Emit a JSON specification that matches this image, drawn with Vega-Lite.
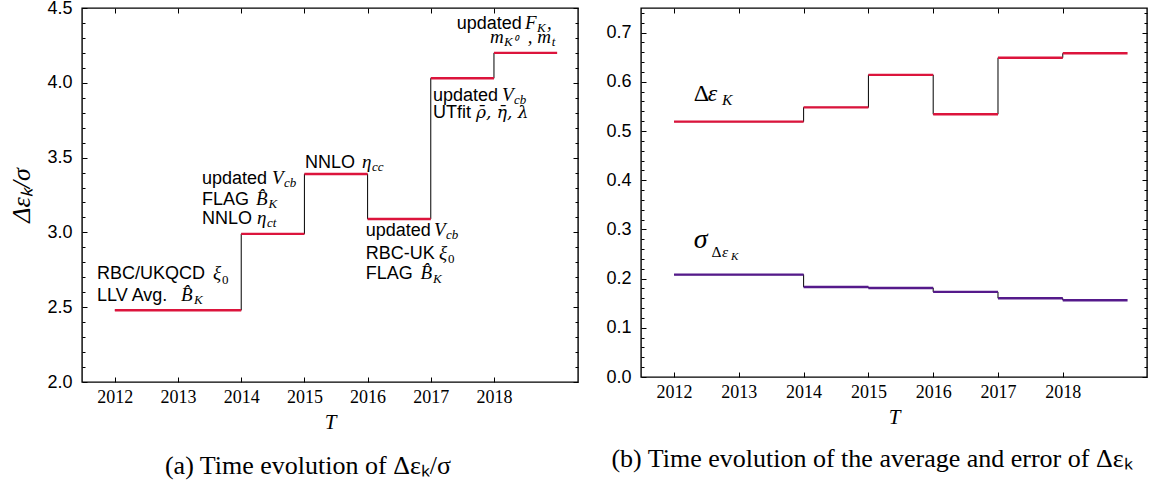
{
  "$schema": "https://vega.github.io/schema/vega-lite/v6.json",
  "padding": {"left": 8, "top": -2, "right": 0, "bottom": 0},
  "autosize": {"type": "pad"},
  "background": "white",
  "config": {
    "view": {"stroke": "black", "strokeWidth": 1.4},
    "axis": {"domain": false, "grid": false, "tickColor": "black", "labelColor": "black", "titleColor": "black", "labelFontSize": 18, "tickWidth": 1},
    "axisX": {"labelFont": "Liberation Serif"},
    "axisY": {"labelFont": "Liberation Sans"},
    "title": {"font": "Liberation Serif", "fontSize": 26, "fontWeight": "normal", "orient": "bottom", "offset": 21, "color": "black"},
    "concat": {"spacing": 25},
    "text": {"align": "left", "baseline": "alphabetic", "color": "black"}
  },
  "datasets": {
    "left": [
      {"T": 2012, "T2": 2014, "v": 2.48},
      {"T": 2014, "T2": 2015, "v": 2.99},
      {"T": 2015, "T2": 2016, "v": 3.39},
      {"T": 2016, "T2": 2017, "v": 3.09},
      {"T": 2017, "T2": 2018, "v": 4.03},
      {"T": 2018, "T2": 2019, "v": 4.2}
    ],
    "right": [
      {"s": "avg", "T": 2012, "T2": 2014, "v": 0.519},
      {"s": "avg", "T": 2014, "T2": 2015, "v": 0.548},
      {"s": "avg", "T": 2015, "T2": 2016, "v": 0.614},
      {"s": "avg", "T": 2016, "T2": 2017, "v": 0.534},
      {"s": "avg", "T": 2017, "T2": 2018, "v": 0.649},
      {"s": "avg", "T": 2018, "T2": 2019, "v": 0.658},
      {"s": "err", "T": 2012, "T2": 2014, "v": 0.208},
      {"s": "err", "T": 2014, "T2": 2015, "v": 0.183},
      {"s": "err", "T": 2015, "T2": 2016, "v": 0.181},
      {"s": "err", "T": 2016, "T2": 2017, "v": 0.173},
      {"s": "err", "T": 2017, "T2": 2018, "v": 0.160},
      {"s": "err", "T": 2018, "T2": 2019, "v": 0.156}
    ],
    "lsans": [
      {"T": 2011.717, "v": 2.687, "t": "RBC/UKQCD"},
      {"T": 2011.717, "v": 2.541, "t": "LLV Avg."},
      {"T": 2013.379, "v": 3.326, "t": "updated"},
      {"T": 2013.379, "v": 3.183, "t": "FLAG"},
      {"T": 2013.379, "v": 3.054, "t": "NNLO"},
      {"T": 2015.008, "v": 3.432, "t": "NNLO"},
      {"T": 2015.969, "v": 2.976, "t": "updated"},
      {"T": 2015.969, "v": 2.820, "t": "RBC-UK"},
      {"T": 2015.969, "v": 2.687, "t": "FLAG"},
      {"T": 2017.034, "v": 3.878, "t": "updated"},
      {"T": 2017.034, "v": 3.767, "t": "UTfit"},
      {"T": 2017.410, "v": 4.362, "t": "updated"}
    ],
    "lmath": [
      {"T": 2013.553, "v": 2.687, "t": "ξ"},
      {"T": 2013.046, "v": 2.541, "t": "B̂"},
      {"T": 2014.486, "v": 3.326, "t": "V"},
      {"T": 2014.233, "v": 3.183, "t": "B̂"},
      {"T": 2014.249, "v": 3.054, "t": "η"},
      {"T": 2015.910, "v": 3.432, "t": "η"},
      {"T": 2017.050, "v": 2.976, "t": "V"},
      {"T": 2017.129, "v": 2.820, "t": "ξ"},
      {"T": 2016.839, "v": 2.687, "t": "B̂"},
      {"T": 2018.126, "v": 3.878, "t": "V"},
      {"T": 2018.490, "v": 4.362, "t": "F"},
      {"T": 2018.838, "v": 4.362, "t": ","},
      {"T": 2017.936, "v": 4.268, "t": "m"},
      {"T": 2018.535, "v": 4.268, "t": ", m"}
    ],
    "lsub": [
      {"T": 2013.252, "v": 2.521, "t": "K"},
      {"T": 2014.676, "v": 3.303, "t": "cb"},
      {"T": 2014.431, "v": 3.163, "t": "K"},
      {"T": 2014.408, "v": 3.033, "t": "ct"},
      {"T": 2016.069, "v": 3.410, "t": "cc"},
      {"T": 2017.240, "v": 2.953, "t": "cb"},
      {"T": 2017.034, "v": 2.663, "t": "K"},
      {"T": 2018.316, "v": 3.855, "t": "cb"},
      {"T": 2018.680, "v": 4.340, "t": "K"},
      {"T": 2018.157, "v": 4.246, "t": "K⁰"},
      {"T": 2018.915, "v": 4.246, "t": "t"}
    ],
    "lsubup": [
      {"T": 2013.695, "v": 2.655, "t": "0"},
      {"T": 2017.271, "v": 2.797, "t": "0"}
    ]
  },
  "hconcat": [
    {
      "width": 496,
      "height": 374,
      "title": {"text": "(a) Time evolution of Δεₖ/σ", "dx": -22},
      "resolve": {"axis": {"x": "independent", "y": "independent"}},
      "layer": [
        {
          "data": {"name": "left"},
          "mark": {"type": "line", "interpolate": "step-after", "color": "black", "strokeWidth": 1},
          "encoding": {
            "x": {"field": "T", "type": "quantitative", "scale": {"domain": [2011.48, 2019.33], "nice": false, "zero": false},
              "axis": {"orient": "bottom", "values": [2012, 2013, 2014, 2015, 2016, 2017, 2018], "format": "d", "tickSize": -5, "labelPadding": 11, "labelFlush": false, "labelOverlap": false,
                "title": "T", "titleFont": "Liberation Serif", "titleFontStyle": "italic", "titleFontWeight": "normal", "titleFontSize": 21, "titlePadding": 5}},
            "y": {"field": "v", "type": "quantitative", "scale": {"domain": [2, 4.5], "nice": false, "zero": false},
              "axis": {"orient": "left", "values": [2, 2.5, 3, 3.5, 4, 4.5], "format": ".1f", "tickSize": -5, "labelPadding": 15, "labelFlush": false, "labelOverlap": false,
                "title": "Δεₖ/σ", "titleFont": "Liberation Serif", "titleFontStyle": "italic", "titleFontWeight": "normal", "titleFontSize": 26, "titlePadding": 12}}
          }
        },
        {
          "data": {"name": "left"},
          "mark": {"type": "rule", "color": "#dc143c", "strokeWidth": 2.4},
          "encoding": {
            "x": {"field": "T", "type": "quantitative", "scale": {"domain": [2011.48, 2019.33], "nice": false, "zero": false},
              "axis": {"orient": "top", "values": [2012, 2013, 2014, 2015, 2016, 2017, 2018], "labels": false, "tickSize": -5, "title": null}},
            "x2": {"field": "T2"},
            "y": {"field": "v", "type": "quantitative", "scale": {"domain": [2, 4.5], "nice": false, "zero": false},
              "axis": {"orient": "right", "values": [2, 2.5, 3, 3.5, 4, 4.5], "labels": false, "tickSize": -5, "title": null}}
          }
        },
        {
          "data": {"name": "lsans"},
          "mark": {"type": "text", "font": "Liberation Sans", "fontSize": 18},
          "encoding": {
            "x": {"field": "T", "type": "quantitative", "scale": {"domain": [2011.48, 2019.33], "nice": false, "zero": false}, "axis": null},
            "y": {"field": "v", "type": "quantitative", "scale": {"domain": [2, 4.5], "nice": false, "zero": false},
              "axis": {"orient": "left", "values": [2.1, 2.2, 2.3, 2.4, 2.6, 2.7, 2.8, 2.9, 3.1, 3.2, 3.3, 3.4, 3.6, 3.7, 3.8, 3.9, 4.1, 4.2, 4.3, 4.4], "labels": false, "tickSize": -3, "title": null}},
            "text": {"field": "t"}
          }
        },
        {
          "data": {"name": "lmath"},
          "mark": {"type": "text", "font": "Liberation Serif", "fontStyle": "italic", "fontSize": 19},
          "encoding": {
            "x": {"field": "T", "type": "quantitative", "scale": {"domain": [2011.48, 2019.33], "nice": false, "zero": false}, "axis": null},
            "y": {"field": "v", "type": "quantitative", "scale": {"domain": [2, 4.5], "nice": false, "zero": false},
              "axis": {"orient": "right", "values": [2.1, 2.2, 2.3, 2.4, 2.6, 2.7, 2.8, 2.9, 3.1, 3.2, 3.3, 3.4, 3.6, 3.7, 3.8, 3.9, 4.1, 4.2, 4.3, 4.4], "labels": false, "tickSize": -3, "title": null}},
            "text": {"field": "t"}
          }
        },
        {
          "data": {"values": [{"T": 2017.714, "v": 3.767, "t": "ρ̄, η̄, λ"}]},
          "mark": {"type": "text", "font": "DejaVu Serif", "fontStyle": "italic", "fontSize": 17},
          "encoding": {
            "x": {"field": "T", "type": "quantitative", "scale": {"domain": [2011.48, 2019.33], "nice": false, "zero": false}, "axis": null},
            "y": {"field": "v", "type": "quantitative", "scale": {"domain": [2, 4.5], "nice": false, "zero": false}, "axis": null},
            "text": {"field": "t"}
          }
        },
        {
          "data": {"name": "lsub"},
          "mark": {"type": "text", "font": "Liberation Serif", "fontStyle": "italic", "fontSize": 13},
          "encoding": {
            "x": {"field": "T", "type": "quantitative", "scale": {"domain": [2011.48, 2019.33], "nice": false, "zero": false}, "axis": null},
            "y": {"field": "v", "type": "quantitative", "scale": {"domain": [2, 4.5], "nice": false, "zero": false}, "axis": null},
            "text": {"field": "t"}
          }
        },
        {
          "data": {"name": "lsubup"},
          "mark": {"type": "text", "font": "Liberation Serif", "fontSize": 13},
          "encoding": {
            "x": {"field": "T", "type": "quantitative", "scale": {"domain": [2011.48, 2019.33], "nice": false, "zero": false}, "axis": null},
            "y": {"field": "v", "type": "quantitative", "scale": {"domain": [2, 4.5], "nice": false, "zero": false}, "axis": null},
            "text": {"field": "t"}
          }
        }
      ]
    },
    {
      "width": 506,
      "height": 369,
      "title": {"text": "(b) Time evolution of the average and error of Δεₖ", "dx": -22, "offset": 19},
      "resolve": {"axis": {"x": "independent", "y": "independent"}},
      "layer": [
        {
          "data": {"name": "right"},
          "mark": {"type": "line", "interpolate": "step-after", "color": "black", "strokeWidth": 1},
          "encoding": {
            "detail": {"field": "s"},
            "x": {"field": "T", "type": "quantitative", "scale": {"domain": [2011.49, 2019.3], "nice": false, "zero": false},
              "axis": {"orient": "bottom", "values": [2012, 2013, 2014, 2015, 2016, 2017, 2018], "format": "d", "tickSize": -5, "labelPadding": 11, "labelFlush": false, "labelOverlap": false,
                "title": "T", "titleFont": "Liberation Serif", "titleFontStyle": "italic", "titleFontWeight": "normal", "titleFontSize": 21, "titlePadding": 5}},
            "y": {"field": "v", "type": "quantitative", "scale": {"domain": [0, 0.75], "nice": false, "zero": false},
              "axis": {"orient": "left", "values": [0, 0.1, 0.2, 0.3, 0.4, 0.5, 0.6, 0.7], "format": ".1f", "tickSize": -5, "labelPadding": 15, "labelFlush": false, "labelOverlap": false, "title": null}}
          }
        },
        {
          "data": {"name": "right"},
          "mark": {"type": "rule", "strokeWidth": 2.4},
          "encoding": {
            "color": {"field": "s", "type": "nominal", "scale": {"domain": ["avg", "err"], "range": ["#dc143c", "#551a8b"]}, "legend": null},
            "x": {"field": "T", "type": "quantitative", "scale": {"domain": [2011.49, 2019.3], "nice": false, "zero": false},
              "axis": {"orient": "top", "values": [2012, 2013, 2014, 2015, 2016, 2017, 2018], "labels": false, "tickSize": -5, "title": null}},
            "x2": {"field": "T2"},
            "y": {"field": "v", "type": "quantitative", "scale": {"domain": [0, 0.75], "nice": false, "zero": false},
              "axis": {"orient": "right", "values": [0, 0.1, 0.2, 0.3, 0.4, 0.5, 0.6, 0.7], "labels": false, "tickSize": -5, "title": null}}
          }
        },
        {
          "data": {"values": [{"T": 2012.303, "v": 0.5607, "t": "Δ"}]},
          "mark": {"type": "text", "font": "Liberation Serif", "fontSize": 24},
          "encoding": {
            "x": {"field": "T", "type": "quantitative", "scale": {"domain": [2011.49, 2019.3], "nice": false, "zero": false}, "axis": null},
            "y": {"field": "v", "type": "quantitative", "scale": {"domain": [0, 0.75], "nice": false, "zero": false},
              "axis": {"orient": "left", "values": [0.02, 0.04, 0.06, 0.08, 0.12, 0.14, 0.16, 0.18, 0.22, 0.24, 0.26, 0.28, 0.32, 0.34, 0.36, 0.38, 0.42, 0.44, 0.46, 0.48, 0.52, 0.54, 0.56, 0.58, 0.62, 0.64, 0.66, 0.68, 0.72, 0.74], "labels": false, "tickSize": -3, "title": null}},
            "text": {"field": "t"}
          }
        },
        {
          "data": {"values": [{"T": 2012.52, "v": 0.5607, "t": "ε"}]},
          "mark": {"type": "text", "font": "Liberation Serif", "fontStyle": "italic", "fontSize": 24},
          "encoding": {
            "x": {"field": "T", "type": "quantitative", "scale": {"domain": [2011.49, 2019.3], "nice": false, "zero": false}, "axis": null},
            "y": {"field": "v", "type": "quantitative", "scale": {"domain": [0, 0.75], "nice": false, "zero": false},
              "axis": {"orient": "right", "values": [0.02, 0.04, 0.06, 0.08, 0.12, 0.14, 0.16, 0.18, 0.22, 0.24, 0.26, 0.28, 0.32, 0.34, 0.36, 0.38, 0.42, 0.44, 0.46, 0.48, 0.52, 0.54, 0.56, 0.58, 0.62, 0.64, 0.66, 0.68, 0.72, 0.74], "labels": false, "tickSize": -3, "title": null}},
            "text": {"field": "t"}
          }
        },
        {
          "data": {"values": [{"T": 2012.74, "v": 0.5526, "t": "K"}, {"T": 2012.74, "v": 0.2448, "t": "ε"}]},
          "mark": {"type": "text", "font": "Liberation Serif", "fontStyle": "italic", "fontSize": 15.5},
          "encoding": {
            "x": {"field": "T", "type": "quantitative", "scale": {"domain": [2011.49, 2019.3], "nice": false, "zero": false}, "axis": null},
            "y": {"field": "v", "type": "quantitative", "scale": {"domain": [0, 0.75], "nice": false, "zero": false}, "axis": null},
            "text": {"field": "t"}
          }
        },
        {
          "data": {"values": [{"T": 2012.303, "v": 0.2617, "t": "σ"}]},
          "mark": {"type": "text", "font": "Liberation Serif", "fontStyle": "italic", "fontSize": 28},
          "encoding": {
            "x": {"field": "T", "type": "quantitative", "scale": {"domain": [2011.49, 2019.3], "nice": false, "zero": false}, "axis": null},
            "y": {"field": "v", "type": "quantitative", "scale": {"domain": [0, 0.75], "nice": false, "zero": false}, "axis": null},
            "text": {"field": "t"}
          }
        },
        {
          "data": {"values": [{"T": 2012.58, "v": 0.2448, "t": "Δ"}]},
          "mark": {"type": "text", "font": "Liberation Serif", "fontSize": 15.5},
          "encoding": {
            "x": {"field": "T", "type": "quantitative", "scale": {"domain": [2011.49, 2019.3], "nice": false, "zero": false}, "axis": null},
            "y": {"field": "v", "type": "quantitative", "scale": {"domain": [0, 0.75], "nice": false, "zero": false}, "axis": null},
            "text": {"field": "t"}
          }
        },
        {
          "data": {"values": [{"T": 2012.88, "v": 0.2387, "t": "K"}]},
          "mark": {"type": "text", "font": "Liberation Serif", "fontStyle": "italic", "fontSize": 11},
          "encoding": {
            "x": {"field": "T", "type": "quantitative", "scale": {"domain": [2011.49, 2019.3], "nice": false, "zero": false}, "axis": null},
            "y": {"field": "v", "type": "quantitative", "scale": {"domain": [0, 0.75], "nice": false, "zero": false}, "axis": null},
            "text": {"field": "t"}
          }
        }
      ]
    }
  ]
}
